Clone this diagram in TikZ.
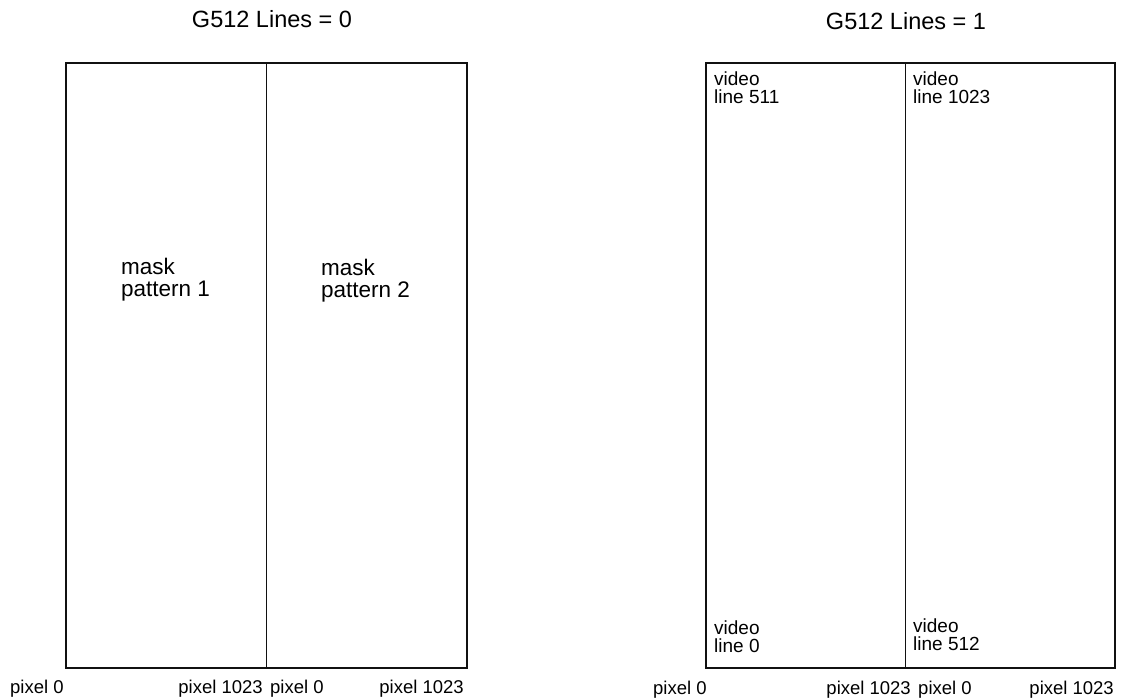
\documentclass[tikz,border=0pt]{standalone}
\usepackage{fontspec}
\setmainfont{Liberation Sans}
\usepackage{tikz}
\usetikzlibrary{positioning}
\definecolor{scanblack}{HTML}{111111}

\tikzset{
  frame/.style={draw=scanblack,line width=2.6pt},
  split/.style={draw=scanblack,line width=0.8pt},
  title/.style={font=\fontsize{23.5}{26}\selectfont,inner sep=0pt,anchor=base},
  masklbl/.style={font=\fontsize{22.5}{21.5}\selectfont,align=left,inner sep=0pt,anchor=north west},
  vidlbl/.style={font=\fontsize{19}{17.5}\selectfont,align=left,inner sep=0pt,anchor=north west},
  pixlbl/.style={font=\fontsize{18.5}{20}\selectfont,inner sep=0pt},
}

\begin{document}
\begin{tikzpicture}[x=1pt,y=-1pt]
  \useasboundingbox (0,0) rectangle (1126,700);

  % G512 Lines = 0
  \node[title] (title0) at (272,28) {G512 Lines = 0};
  \coordinate (l-nw) at (66,63);
  \coordinate (l-se) at (467,668);
  \coordinate (l-top) at (266,63);
  \coordinate (l-bot) at (266,668);
  \draw[frame] (l-nw) rectangle (l-se);
  \draw[split] (l-top) -- (l-bot);
  \node[masklbl] (mask1) at (121,258) {mask\\pattern 1};
  \node[masklbl] (mask2) at (321,259) {mask\\pattern 2};
  \node[pixlbl,anchor=base west] (lpix0) at (10,693) {pixel 0};
  \node[pixlbl,anchor=base east] (lpix1) at (263,693) {pixel 1023};
  \node[pixlbl,anchor=base west] (lpix2) at (270,693) {pixel 0};
  \node[pixlbl,anchor=base east] (lpix3) at (464,693) {pixel 1023};

  % G512 Lines = 1
  \node[title] (title1) at (906,30) {G512 Lines = 1};
  \coordinate (r-nw) at (706,63);
  \coordinate (r-se) at (1115,668);
  \coordinate (r-top) at (905,63);
  \coordinate (r-bot) at (905,668);
  \draw[frame] (r-nw) rectangle (r-se);
  \draw[split] (r-top) -- (r-bot);
  \node[vidlbl] (vid511) at (714,72) {video\\line 511};
  \node[vidlbl] (vid1023) at (913,72) {video\\line 1023};
  \node[vidlbl] (vid0) at (714,621) {video\\line 0};
  \node[vidlbl] (vid512) at (913,619) {video\\line 512};
  \node[pixlbl,anchor=base west] (rpix0) at (653,694) {pixel 0};
  \node[pixlbl,anchor=base east] (rpix1) at (911,694) {pixel 1023};
  \node[pixlbl,anchor=base west] (rpix2) at (918,694) {pixel 0};
  \node[pixlbl,anchor=base east] (rpix3) at (1114,694) {pixel 1023};
\end{tikzpicture}
\end{document}
